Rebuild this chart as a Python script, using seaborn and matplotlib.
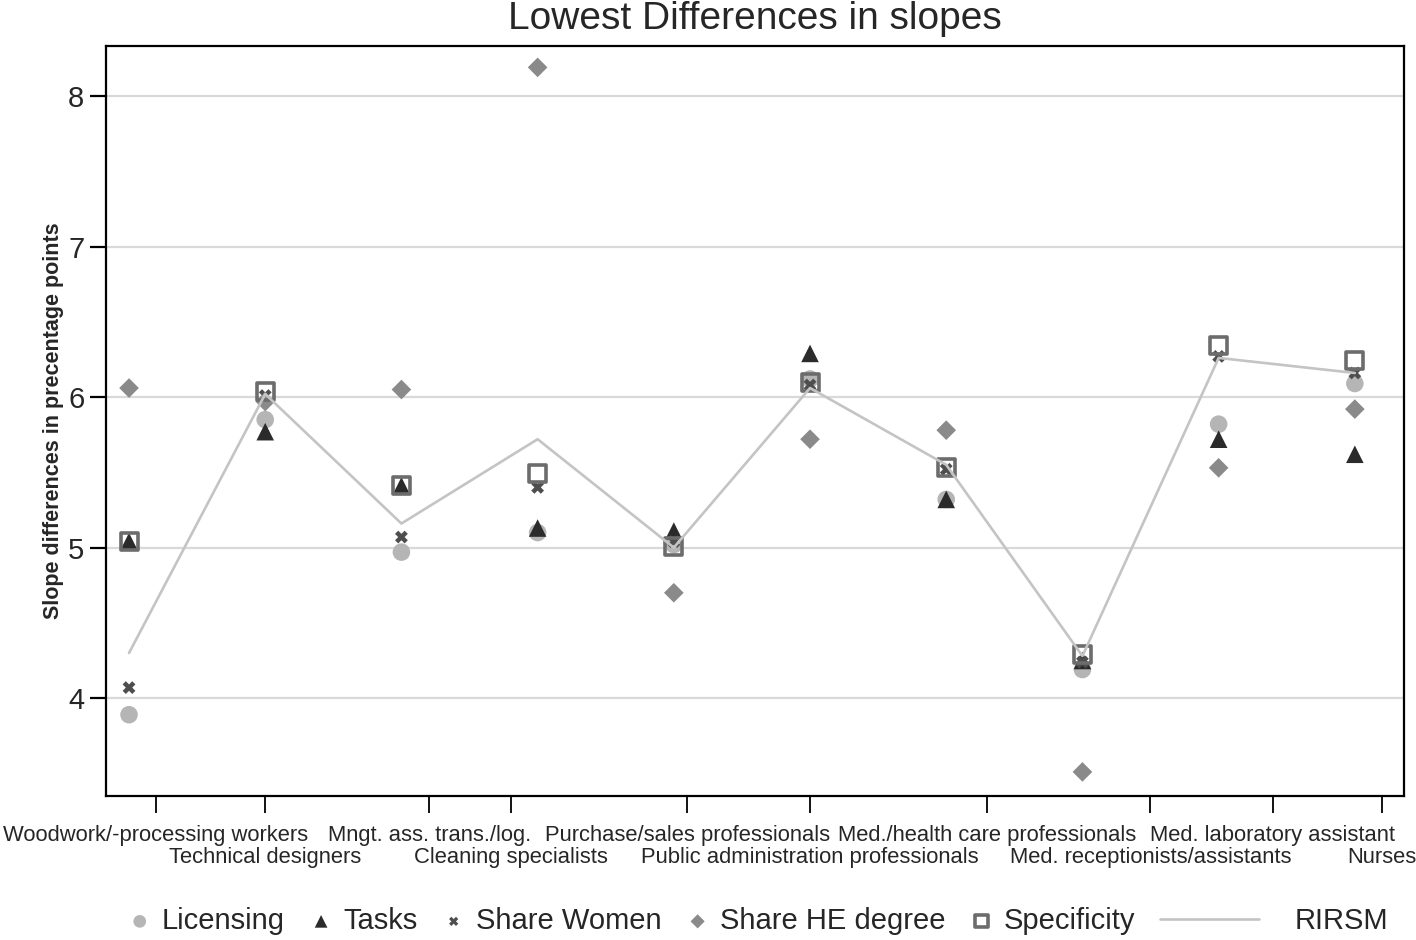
import matplotlib
matplotlib.use("Agg")
import matplotlib.pyplot as plt
import seaborn as sns
import pandas as pd
import numpy as np

categories = ["Woodwork/-processing workers", "Technical designers", "Mngt. ass. trans./log.",
              "Cleaning specialists", "Purchase/sales professionals", "Public administration professionals",
              "Med./health care professionals", "Med. receptionists/assistants", "Med. laboratory assistant",
              "Nurses"]
tick_pos = [1.198, 1.999, 3.203, 3.802, 5.099, 6.000, 7.297, 8.499, 9.396, 10.202]

licensing   = [3.89, 5.85, 4.97, 5.10, 5.02, 6.12, 5.32, 4.19, 5.82, 6.09]
tasks       = [5.04, 5.77, 5.41, 5.13, 5.11, 6.29, 5.32, 4.25, 5.72, 5.62]
share_women = [4.07, 6.01, 5.07, 5.40, 5.04, 6.08, 5.52, 4.24, 6.27, 6.16]
share_he    = [6.06, 5.97, 6.05, 8.19, 4.70, 5.72, 5.78, 3.51, 5.53, 5.92]
specificity = [5.04, 6.04, 5.41, 5.49, 5.01, 6.10, 5.53, 4.29, 6.34, 6.24]
rirsm       = [4.30, 6.02, 5.16, 5.72, 5.00, 6.06, 5.55, 4.28, 6.26, 6.16]

sns.set_theme(style="white")
plt.rcParams['font.family'] = ['Liberation Sans', 'DejaVu Sans']

xs = np.arange(1, len(categories) + 1)
df = pd.DataFrame({"x": xs, "Licensing": licensing, "Tasks": tasks, "Share Women": share_women,
                   "Share HE degree": share_he, "Specificity": specificity, "RIRSM": rirsm})

fig = plt.figure(figsize=(14.16, 9.40), dpi=100)
ax = fig.add_axes([106/1416, 1-796/940, (1404-106)/1416, (796-46)/940])

ax.set_xlim(0.831, 10.361)
ax.set_ylim(3.35, 8.332)
ax.set_yticks([4, 5, 6, 7, 8])
ax.yaxis.grid(True, color="#d9d9d9", linewidth=1.6)
ax.xaxis.grid(False)
ax.set_axisbelow(True)

sns.scatterplot(data=df, x="x", y="Licensing", ax=ax, marker="o", s=160, color="#b5b5b5",
                edgecolor="none", label="Licensing", zorder=3)
sns.scatterplot(data=df, x="x", y="Tasks", ax=ax, marker="^", s=160, color="#2b2b2b",
                edgecolor="none", label="Tasks", zorder=3)
sns.scatterplot(data=df, x="x", y="Share Women", ax=ax, marker="X", s=85, color="#4e4e4e",
                edgecolor="none", label="Share Women", zorder=3)
sns.scatterplot(data=df, x="x", y="Share HE degree", ax=ax, marker="D", s=100, color="#8a8a8a",
                edgecolor="none", label="Share HE degree", zorder=3)
sns.scatterplot(data=df, x="x", y="Specificity", ax=ax, marker="s", s=150, facecolor="none",
                edgecolor="#6c6c6c", linewidth=2.6, label="Specificity", zorder=3)
sns.lineplot(data=df, x="x", y="RIRSM", ax=ax, color="#c4c4c4", linewidth=1.9, label="RIRSM", zorder=4)

for side in ["left", "bottom", "right", "top"]:
    ax.spines[side].set_visible(True)
    ax.spines[side].set_color("black")
    ax.spines[side].set_linewidth(1.6)

# two staggered rows of category labels: first row on major ticks, second row on minor ticks
ax.set_xticks(tick_pos[0::2])
ax.set_xticklabels(categories[0::2], fontsize=15.8)
ax.set_xticks(tick_pos[1::2], minor=True)
ax.set_xticklabels(categories[1::2], minor=True, fontsize=15.8)
ax.tick_params(axis="x", which="major", direction="out", length=12, width=1.3, color="black",
               pad=9, bottom=True)
ax.tick_params(axis="x", which="minor", direction="out", length=12, width=1.3, color="black",
               pad=25, bottom=True)
ax.tick_params(axis="y", direction="out", length=11.5, width=1.6, color="black", pad=4, left=True,
               labelsize=21)
ax.set_xlabel("")
ax.set_ylabel("Slope differences in precentage points", fontsize=15.5, fontweight="bold", labelpad=3)
ax.set_title("Lowest Differences in slopes", fontsize=28, pad=12)

handles, hlabels = ax.get_legend_handles_labels()
ax.legend_.remove()
leg1 = fig.legend(handles[:5], hlabels[:5], loc="center left", bbox_to_anchor=(131/1416, 0.0202),
                  ncol=5, frameon=False, fontsize=21, handlelength=0.6, handletextpad=0.45,
                  columnspacing=0.95, markerscale=0.72, borderpad=0, borderaxespad=0)
leg2 = fig.legend(handles[5:], hlabels[5:], loc="center left", bbox_to_anchor=(1160/1416, 0.0202),
                  ncol=1, frameon=False, fontsize=21, handlelength=3.4, handletextpad=1.2,
                  borderpad=0, borderaxespad=0)

fig.savefig("out.png", dpi=100)
